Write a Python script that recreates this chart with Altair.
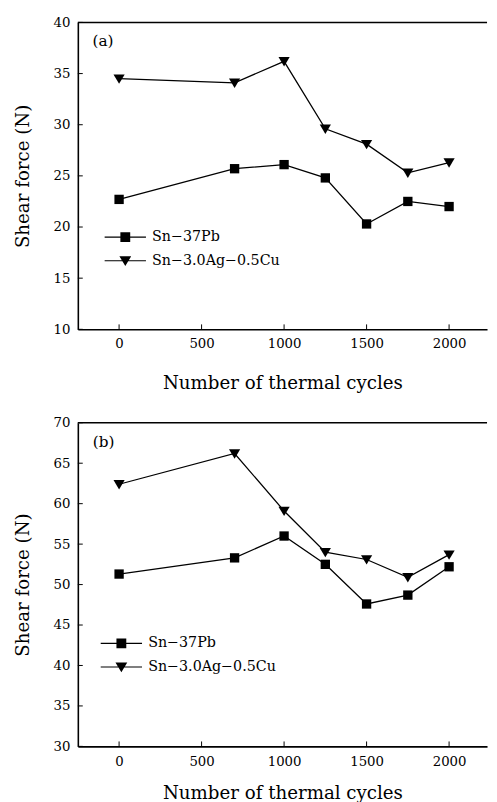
import altair as alt
import pandas as pd

# ---- data ----
cycles = [0, 700, 1000, 1250, 1500, 1750, 2000]
series_names = ["Sn−37Pb", "Sn−3.0Ag−0.5Cu"]

a_snpb = [22.7, 25.7, 26.1, 24.8, 20.3, 22.5, 22.0]
a_sac = [34.5, 34.1, 36.2, 29.6, 28.1, 25.3, 26.3]

b_snpb = [51.3, 53.3, 56.0, 52.5, 47.6, 48.7, 52.2]
b_sac = [62.4, 66.2, 59.1, 54.0, 53.1, 50.9, 53.7]

x_ticks = [0, 500, 1000, 1500, 2000]
a_yticks = [10, 15, 20, 25, 30, 35, 40]
b_yticks = [30, 35, 40, 45, 50, 55, 60, 65, 70]

# panel tags and where they sit (data units)
a_tag = {"t": ["(a)"], "cycles": [-161], "force": [38.2]}
b_tag = {"t": ["(b)"], "cycles": [-160], "force": [67.6]}

FONT = "DejaVu Serif"
W = 416

SQ = "M-1,-1H1V1H-1Z"
TRI = "M-1.2,-0.9H1.2L0,1.1Z"
SQ_L = "M-4.2,-0.11H4.2V0.11H-4.2Z M-1,-1H1V1H-1Z"
TRI_L = "M-4.2,-0.11H4.2V0.11H-4.2Z M-1.2,-0.9H1.2L0,1.1Z"


def panel(pb, sac, ymin, ymax, yticks, tag, lx, ly, h, xtitle_pad):
    df = pd.DataFrame({
        "cycles": cycles + cycles,
        "force": pb + sac,
        "series": [series_names[0]] * len(cycles) + [series_names[1]] * len(cycles),
    })
    xs = alt.Scale(domain=[-250, 2230], nice=False, zero=False)
    ys = alt.Scale(domain=[ymin, ymax], nice=False, zero=False)
    base = alt.Chart(df)

    # inward tick marks at the tick values, and the top frame line
    xt = alt.Chart(pd.DataFrame({"cycles": x_ticks})).mark_rule(color="black").encode(
        x=alt.X("cycles:Q", scale=xs), y=alt.value(h), y2=alt.value(h - 5))
    yt = alt.Chart(pd.DataFrame({"force": yticks})).mark_rule(color="black").encode(
        y=alt.Y("force:Q", scale=ys), x=alt.value(0), x2=alt.value(5))
    top = alt.Chart(pd.DataFrame({"force": [ymax]})).mark_rule(color="black", strokeWidth=1.6).encode(
        y=alt.Y("force:Q", scale=ys), x=alt.value(0), x2=alt.value(W))

    line = base.mark_line(color="black", strokeWidth=1.3).encode(
        x=alt.X("cycles:Q", scale=xs, axis=alt.Axis(
            orient="bottom", values=x_ticks, format="d", title="Number of thermal cycles",
            ticks=False, labelPadding=8, titlePadding=xtitle_pad, domain=True)),
        y=alt.Y("force:Q", scale=ys, axis=alt.Axis(
            orient="left", values=yticks, title="Shear force (N)",
            ticks=False, labelPadding=8, titlePadding=21, domain=True)),
        detail="series:N",
    )

    pts = base.mark_point(filled=True, color="black", opacity=1, size=90).encode(
        x=alt.X("cycles:Q", scale=xs),
        y=alt.Y("force:Q", scale=ys),
        shape=alt.Shape("series:N", scale=alt.Scale(domain=series_names, range=[SQ, TRI]),
                        legend=None),
    )

    leg = base.mark_point(filled=True, color="black", opacity=0, size=90).encode(
        x=alt.X("cycles:Q", scale=xs),
        y=alt.Y("force:Q", scale=ys),
        shape=alt.Shape("series:N", scale=alt.Scale(domain=series_names, range=[SQ_L, TRI_L]),
                        legend=alt.Legend(orient="none", legendX=lx, legendY=ly, title=None,
                                          labelFont=FONT, labelFontSize=14.5, labelColor="black",
                                          rowPadding=7, labelOffset=20, labelLimit=300)),
    )

    tag_txt = alt.Chart(pd.DataFrame(tag)).mark_text(
        align="left", baseline="middle", font=FONT, fontSize=15.5, color="black"
    ).encode(text="t:N", x=alt.X("cycles:Q", scale=xs), y=alt.Y("force:Q", scale=ys))

    return alt.layer(xt, yt, top, line, pts, leg, tag_txt).resolve_scale(
        shape="independent"
    ).properties(width=W, height=h)


pa = panel(a_snpb, a_sac, 10, 40, a_yticks, a_tag, 41, 211, 312, 24)
pb_ = panel(b_snpb, b_sac, 30, 70, b_yticks, b_tag, 37, 217, 329, 16)

chart = alt.vconcat(pa, pb_, spacing=22).properties(
    padding={"left": 5, "top": 0, "right": 0, "bottom": 0}
).configure_view(stroke="transparent").configure_axis(
    labelFont=FONT, labelFontSize=13.5, labelColor="black",
    titleFont=FONT, titleFontSize=18.5, titleFontWeight="normal", titleColor="black",
    domainColor="black", domainWidth=1.6, grid=False,
)

chart.save("out.html", embed_options={"renderer": "svg", "actions": False})
